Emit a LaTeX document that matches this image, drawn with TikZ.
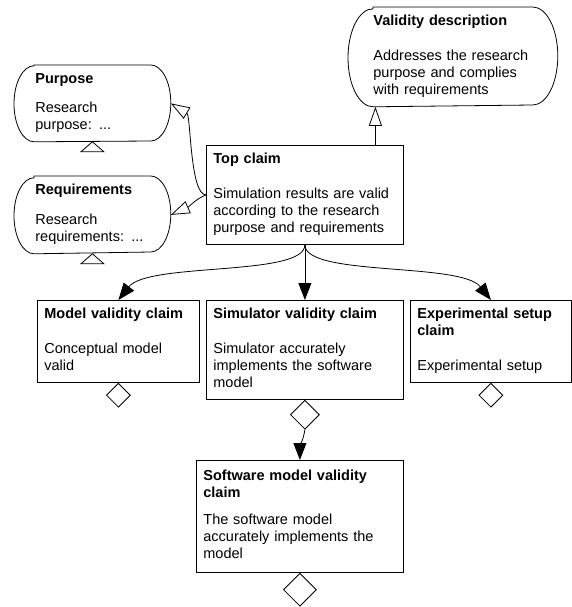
\documentclass[tikz,border=0pt]{standalone}
\usepackage{fontspec}
\setsansfont{Liberation Sans}
\usetikzlibrary{arrows.meta, calc, shapes.geometric}
\definecolor{linecol}{RGB}{0, 0, 0}
\tikzset{
  blk/.style     = {align=left, anchor=north west, line width=0.8pt,
                    font=\sffamily\fontsize{14.5}{17}\selectfont,
                    inner xsep=7pt, inner ysep=6.5pt},
  claim/.style   = {blk, draw=linecol},
  % context boxes get their round ends drawn afterwards
  ctxbox/.style  = {blk, draw=none, inner xsep=21pt},
  dia/.style     = {diamond, draw=linecol, line width=0.8pt, fill=white,
                    inner sep=0pt, minimum width=#1, minimum height=#1,
                    anchor=north},
  stub/.style    = {draw=linecol, line width=0.8pt},
  outline/.style = {draw=linecol, line width=0.8pt},
  support/.style = {-{Triangle[length=17pt, width=13pt]}, draw=linecol,
                    line width=0.8pt},
  context/.style = {-{Triangle[open, length=19pt, width=13pt]}, draw=linecol,
                    line width=0.8pt},
}

\begin{document}
\begin{tikzpicture}[x=1pt, y=-1pt]
  \useasboundingbox (0,0) rectangle (572,607);

  %% context
  \node[ctxbox, text width=114pt, minimum height=76pt] (purpose) at (14,65)
       {\strut\textbf{Purpose}\\[12pt]Research\\purpose: ...\strut};
  \node[ctxbox, text width=114pt, minimum height=76pt] (reqs) at (14,176)
       {\strut\textbf{Requirements}\\[13pt]Research\\requirements: ...\strut};
  \node[ctxbox, text width=159pt, inner xsep=25pt, minimum height=98pt] (valid) at (348,7)
       {\strut\textbf{Validity description}\\[18pt]Addresses the research\\
        purpose and complies\\with requirements\strut};

  \foreach \n/\rx/\ry in {purpose/20/38, reqs/20/38, valid/25/49}
    \draw[outline] ($(\n.north west)+(\rx,0)$) -- ($(\n.north east)+(-\rx,0)$)
      arc[start angle=-90, end angle=90, x radius=\rx, y radius=\ry]
      -- ($(\n.south west)+(\rx,0)$)
      arc[start angle=90, end angle=270, x radius=\rx, y radius=\ry] -- cycle;

  \draw[stub] (purpose.south) -- ++(-11.5,10) -- ++(23,0) -- cycle;
  \draw[stub] (reqs.south) -- ++(-11.5,10) -- ++(23,0) -- cycle;

  %% claims
  \node[claim, text width=183pt, minimum height=98pt] (top) at (206,145)
       {\strut\textbf{Top claim}\\[18pt]Simulation results are valid\\
        according to the research\\purpose and requirements\strut};
  \node[claim, text width=148pt, minimum height=81pt] (model) at (37,300)
       {\strut\textbf{Model validity claim}\\[18pt]Conceptual model\\valid\strut};
  \node[claim, text width=183pt, minimum height=98pt] (sim) at (206,300)
       {\strut\textbf{Simulator validity claim}\\[18pt]Simulator accurately\\
        implements the software\\model\strut};
  \node[claim, text width=147pt, minimum height=81pt] (exp) at (410,300)
       {\strut\textbf{Experimental setup}\\\textbf{claim}\\[18pt]Experimental setup\strut};
  \node[claim, text width=193pt, minimum height=112pt] (soft) at (196,460)
       {\strut\textbf{Software model validity}\\\textbf{claim}\\[10pt]The software model\\
        accurately implements the\\model\strut};

  \node[dia=24pt] (modeldia) at (model.south) {};
  \node[dia=29pt] (simdia) at (sim.south) {};
  \node[dia=24pt] (expdia) at (exp.south) {};
  \node[dia=33pt] (softdia) at (soft.south) {};

  %% links
  \draw[context] (top.west) .. controls +(-16,0) and +(20,12) .. (purpose.east);
  \draw[context] (top.west) .. controls +(-10,4) and +(18,-8) .. (reqs.east);
  \coordinate (vfoot) at ($(top.north)+(70.5,0)$);
  \draw[context] (vfoot) -- (vfoot |- valid.south);

  \draw[support] (top.south) .. controls +(0,32) and +(30,-38) .. (model.north);
  \draw[support] (top.south) -- (sim.north);
  \draw[support] (top.south) .. controls +(0,32) and +(-30,-38) .. (exp.north);
  \draw[support] (simdia.south) .. controls +(-2,12) and +(0,-14) .. (soft.north);
\end{tikzpicture}
\end{document}
